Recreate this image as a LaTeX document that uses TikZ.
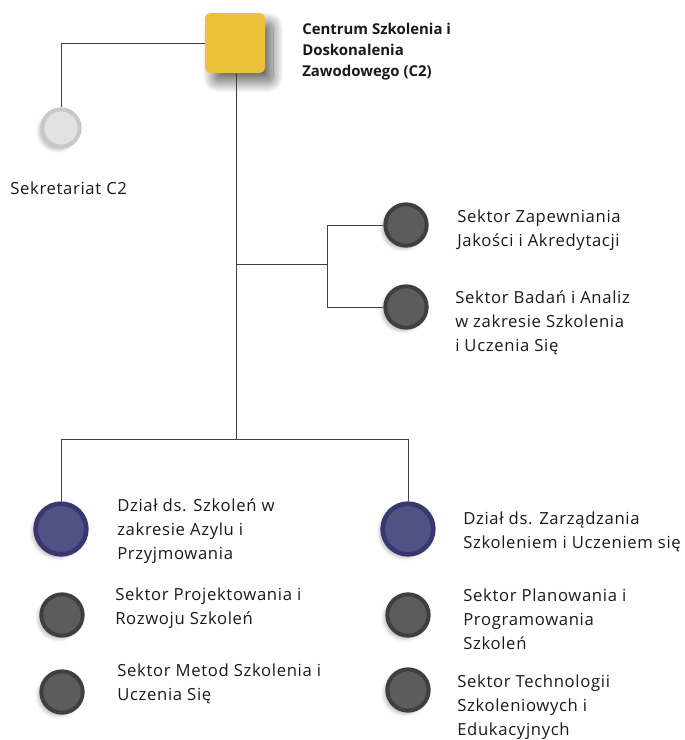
\documentclass[tikz,border=0pt]{standalone}
\usepackage{fontspec}
\setmainfont{Open Sans}
\newfontfamily\unitfont[LetterSpace=4]{Open Sans}
\usetikzlibrary{positioning,shadows.blur}
\definecolor{headyellow}{HTML}{EDC03B}
\definecolor{unitblue}{HTML}{38386F}
\definecolor{unitblueIn}{HTML}{4F5283}
\definecolor{sekgray}{HTML}{3F3F3F}
\definecolor{sekgrayIn}{HTML}{5C5C5C}
\definecolor{secgray}{HTML}{C8C8C8}
\definecolor{secgrayIn}{HTML}{E2E2E2}
\definecolor{linegray}{HTML}{404040}

\tikzset{
  dot/.style={circle, inner sep=0pt, minimum size=31pt, line width=3pt,
    blur shadow={shadow xshift=-2.5pt, shadow yshift=-2.5pt, shadow opacity=25, shadow blur radius=2.5pt}},
  sektor/.style={dot, draw=sekgray, fill=sekgrayIn},
  dzial/.style={dot, draw=unitblue, fill=unitblueIn, minimum size=38pt, line width=3.5pt},
  sekretariat/.style={dot, draw=secgray, fill=secgrayIn, minimum size=28pt},
  label/.style={anchor=west, align=left, inner sep=0pt, font=\unitfont\fontsize{12.5}{18}\selectfont, text=black!90},
  link/.style={linegray, line width=0.75pt}
}

\begin{document}
\begin{tikzpicture}[x=0.75pt, y=-0.75pt]
  \useasboundingbox (0,0) rectangle (685,740);

  % head of the centre
  \node[fill=headyellow, rounded corners=4pt, minimum size=45pt, inner sep=0pt,
    blur shadow={shadow xshift=6pt, shadow yshift=-7pt, shadow opacity=60,
      shadow blur radius=8pt, shadow blur steps=30}] (C2) at (235,43) {};
  \node[label, font=\rmfamily\fontsize{11.2}{15.8}\selectfont\bfseries] (C2txt) at (302,52)
    {Centrum Szkolenia i\\Doskonalenia\\Zawodowego (C2)};

  % secretariat
  \node[sekretariat] (sek) at (61,128) {};
  \node[label] (sektxt) at (10,188) {Sekretariat C2};

  % sectors attached to the head
  \node[sektor] (zap) at (406,225) {};
  \node[sektor] (bad) at (406,307) {};
  \node[label] (zaptxt) at (457,230) {Sektor Zapewniania\\Jakości i Akredytacji};
  \node[label] (badtxt) at (455,323) {Sektor Badań i Analiz\\w zakresie Szkolenia\\i Uczenia Się};

  % departments
  \node[dzial] (azyl) at (61,529) {};
  \node[dzial] (zarz) at (408,529) {};
  \node[label] (azyltxt) at (117,531) {Dział ds. Szkoleń w\\zakresie Azylu i\\Przyjmowania};
  \node[label] (zarztxt) at (463,532) {Dział ds. Zarządzania\\Szkoleniem i Uczeniem się};

  % sectors of the departments
  \node[sektor] (proj) at (62,615) {};
  \node[sektor] (metod) at (62,692) {};
  \node[sektor] (plan) at (408,615) {};
  \node[sektor] (tech) at (408,690) {};
  \node[label] (projtxt) at (115,608) {Sektor Projektowania i\\Rozwoju Szkoleń};
  \node[label] (metodtxt) at (117,684) {Sektor Metod Szkolenia i\\Uczenia Się};
  \node[label] (plantxt) at (463,619) {Sektor Planowania i\\Programowania\\Szkoleń};
  \node[label] (techtxt) at (457,707) {Sektor Technologii\\Szkoleniowych i\\Edukacyjnych};

  % connectors
  \coordinate (splitA) at (236,264);
  \coordinate (forkA) at (327,264);
  \coordinate (bus) at (236,439);
  \coordinate (busL) at (61,439);
  \coordinate (busR) at (408,439);

  \draw[link] (C2.west) -| (sek.north);
  \draw[link] (C2.south -| splitA) -- (bus);
  \draw[link] (splitA) -- (forkA);
  \draw[link] (forkA) |- (zap.west);
  \draw[link] (forkA) |- (bad.west);
  \draw[link] (busL) -- (busR);
  \draw[link] (busL) -- (azyl.north);
  \draw[link] (busR) -- (zarz.north);
\end{tikzpicture}
\end{document}
